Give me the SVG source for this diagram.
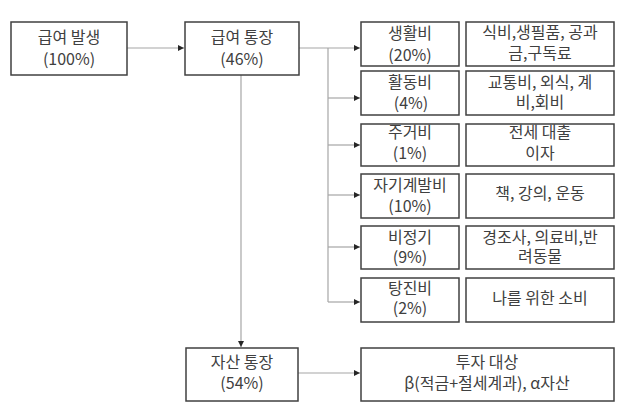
<svg xmlns="http://www.w3.org/2000/svg" width="629" height="418" viewBox="0 0 629 418">
<style>
.box{fill:#fff;stroke:#404040;stroke-width:1.5}
.t{font-family:"Noto Sans CJK KR","Noto Sans",sans-serif;font-size:16px;fill:#404040;text-anchor:middle}
.c{fill:none;stroke:#a6a6a6;stroke-width:1.2}
</style>
<defs>
<marker id="ah" markerWidth="7" markerHeight="7" refX="6" refY="3" orient="auto" markerUnits="userSpaceOnUse">
<path d="M0,0 L6,3 L0,6 Z" fill="#262626"/>
</marker>
</defs>
<rect width="629" height="418" fill="#fff"/>
<g id="connectors">
<line class="c" x1="127" y1="48" x2="184" y2="48" marker-end="url(#ah)"/>
<line class="c" x1="299" y1="48" x2="360" y2="48" marker-end="url(#ah)"/>
<line class="c" x1="328" y1="48" x2="328" y2="302"/>
<line class="c" x1="328" y1="98" x2="360" y2="98" marker-end="url(#ah)"/>
<line class="c" x1="328" y1="145" x2="360" y2="145" marker-end="url(#ah)"/>
<line class="c" x1="328" y1="195" x2="360" y2="195" marker-end="url(#ah)"/>
<line class="c" x1="328" y1="247" x2="360" y2="247" marker-end="url(#ah)"/>
<line class="c" x1="328" y1="302" x2="360" y2="302" marker-end="url(#ah)"/>
<line class="c" x1="241" y1="75" x2="241" y2="347" marker-end="url(#ah)"/>
<line class="c" x1="298" y1="373" x2="360" y2="373" marker-end="url(#ah)"/>
</g>
<g id="n-salary">
<rect class="box" x="11" y="22" width="116" height="53"/>
<text class="t" x="69" y="43">급여 발생</text>
<text class="t" x="69" y="65">(100%)</text>
</g>
<g id="n-salary-account">
<rect class="box" x="185" y="22" width="114" height="53"/>
<text class="t" x="242" y="43">급여 통장</text>
<text class="t" x="242" y="65">(46%)</text>
</g>
<g id="n-living">
<rect class="box" x="361" y="22" width="98" height="44"/>
<text class="t" x="410" y="39">생활비</text>
<text class="t" x="410" y="61">(20%)</text>
</g>
<g id="n-living-desc">
<rect class="box" x="466" y="22" width="148" height="44"/>
<text class="t" x="540" y="38">식비,생필품, 공과</text>
<text class="t" x="540" y="59">금,구독료</text>
</g>
<g id="n-activity">
<rect class="box" x="361" y="71" width="98" height="44"/>
<text class="t" x="410" y="88">활동비</text>
<text class="t" x="411" y="109">(4%)</text>
</g>
<g id="n-activity-desc">
<rect class="box" x="466" y="71" width="148" height="44"/>
<text class="t" x="540" y="88">교통비, 외식, 계</text>
<text class="t" x="540" y="108">비,회비</text>
</g>
<g id="n-housing">
<rect class="box" x="361" y="124" width="98" height="42"/>
<text class="t" x="410" y="138">주거비</text>
<text class="t" x="410" y="159">(1%)</text>
</g>
<g id="n-housing-desc">
<rect class="box" x="466" y="124" width="148" height="42"/>
<text class="t" x="540" y="138">전세 대출</text>
<text class="t" x="540" y="159">이자</text>
</g>
<g id="n-selfdev">
<rect class="box" x="361" y="174" width="98" height="44"/>
<text class="t" x="410" y="191">자기계발비</text>
<text class="t" x="410" y="212">(10%)</text>
</g>
<g id="n-selfdev-desc">
<rect class="box" x="466" y="174" width="148" height="44"/>
<text class="t" x="540" y="199">책, 강의, 운동</text>
</g>
<g id="n-irregular">
<rect class="box" x="361" y="226" width="98" height="43"/>
<text class="t" x="410" y="243">비정기</text>
<text class="t" x="410" y="263">(9%)</text>
</g>
<g id="n-irregular-desc">
<rect class="box" x="466" y="226" width="148" height="43"/>
<text class="t" x="540" y="243">경조사, 의료비,반</text>
<text class="t" x="540" y="262">려동물</text>
</g>
<g id="n-splurge">
<rect class="box" x="361" y="278" width="98" height="44"/>
<text class="t" x="410" y="294">탕진비</text>
<text class="t" x="410" y="314">(2%)</text>
</g>
<g id="n-splurge-desc">
<rect class="box" x="466" y="278" width="148" height="44"/>
<text class="t" x="540" y="304">나를 위한 소비</text>
</g>
<g id="n-asset">
<rect class="box" x="186" y="348" width="112" height="53"/>
<text class="t" x="242" y="368">자산 통장</text>
<text class="t" x="242" y="389">(54%)</text>
</g>
<g id="n-asset-desc">
<rect class="box" x="361" y="348" width="253" height="53"/>
<text class="t" x="487" y="368">투자 대상</text>
<text class="t" x="487" y="389">β(적금+절세계과), α자산</text>
</g>
</svg>
